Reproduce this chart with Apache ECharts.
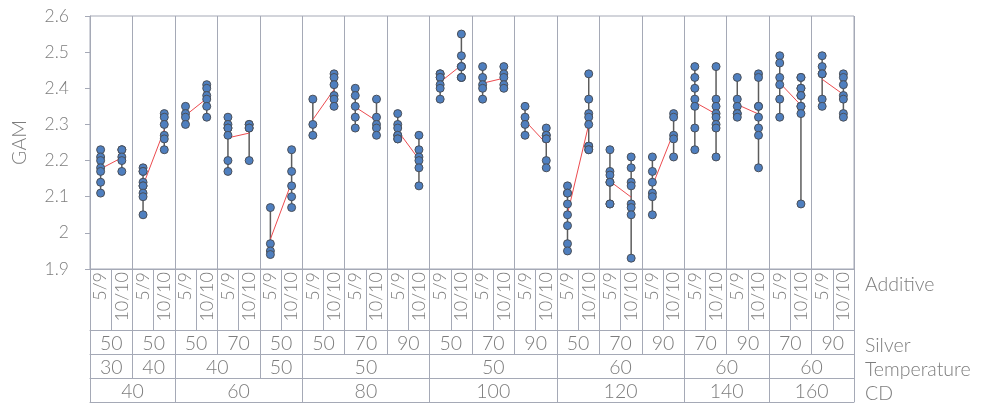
<!DOCTYPE html>
<html><head><meta charset="utf-8">
<script src="https://cdn.jsdelivr.net/npm/echarts@6/dist/echarts.min.js"></script>
<style>html,body{margin:0;padding:0;background:#fff}#c{width:991px;height:404px}</style>
</head><body><div id="c"></div>
<script>
const additiveLabels = ['5/9','10/10','5/9','10/10','5/9','10/10','5/9','10/10','5/9','10/10','5/9','10/10',
  '5/9','10/10','5/9','10/10','5/9','10/10','5/9','10/10','5/9','10/10','5/9','10/10',
  '5/9','10/10','5/9','10/10','5/9','10/10','5/9','10/10','5/9','10/10','5/9','10/10'];
const silverLabels = ['50','50','50','70','50','50','70','90','50','70','90','50','70','90','70','90','70','90'];
const temperatureLabels = ['30','40','40','50','50','50','60','60','60'];
const temperatureSpans = [1,1,2,1,3,3,3,2,2];
const cdLabels = ['40','60','80','100','120','140','160'];
const cdSpans = [2,3,3,3,3,2,2];
const gamValues = [
  [2.23,2.21,2.20,2.18,2.17,2.14,2.11],
  [2.23,2.23,2.21,2.20,2.17],
  [2.18,2.17,2.17,2.14,2.13,2.13,2.11,2.10,2.05],
  [2.33,2.32,2.30,2.27,2.26,2.23],
  [2.35,2.33,2.32,2.30],
  [2.41,2.40,2.38,2.37,2.35,2.32],
  [2.32,2.30,2.29,2.29,2.27,2.20,2.17],
  [2.30,2.30,2.29,2.29,2.20],
  [2.07,1.97,1.95,1.94],
  [2.23,2.17,2.13,2.10,2.07],
  [2.37,2.30,2.27],
  [2.44,2.43,2.41,2.38,2.37,2.35],
  [2.40,2.38,2.35,2.32,2.29],
  [2.37,2.32,2.30,2.29,2.27],
  [2.33,2.30,2.29,2.27,2.27,2.26,2.26],
  [2.27,2.23,2.21,2.20,2.18,2.13],
  [2.44,2.44,2.43,2.43,2.41,2.40,2.37],
  [2.55,2.49,2.46,2.46,2.46,2.43,2.43,2.43],
  [2.46,2.43,2.41,2.40,2.37],
  [2.46,2.44,2.43,2.41,2.40],
  [2.35,2.32,2.30,2.27],
  [2.29,2.27,2.27,2.26,2.26,2.20,2.18],
  [2.13,2.11,2.11,2.08,2.05,2.02,1.97,1.95],
  [2.44,2.37,2.33,2.32,2.30,2.24,2.24,2.23,2.23],
  [2.23,2.17,2.16,2.14,2.14,2.08,2.08],
  [2.21,2.18,2.14,2.13,2.08,2.07,2.05,1.93],
  [2.21,2.17,2.14,2.11,2.10,2.05],
  [2.33,2.32,2.27,2.26,2.21],
  [2.46,2.43,2.40,2.37,2.35,2.29,2.23],
  [2.46,2.37,2.35,2.33,2.32,2.30,2.29,2.21],
  [2.43,2.37,2.35,2.33,2.33,2.32],
  [2.44,2.43,2.35,2.35,2.32,2.29,2.27,2.18],
  [2.49,2.47,2.43,2.41,2.37,2.32],
  [2.43,2.43,2.40,2.40,2.38,2.38,2.35,2.35,2.33,2.08],
  [2.49,2.46,2.44,2.44,2.37,2.35],
  [2.44,2.43,2.41,2.38,2.37,2.33,2.32]
];

const LINE = '#a5a9b6';
const TEXT = '#7d7d7d';
const FONT = 'Lato';

function spanAxis(labels, spans) {
  const data = new Array(73).fill('');
  const bounds = new Set([0]);
  let g = 0;
  labels.forEach((lab, i) => {
    const start = g * 4, len = spans[i] * 4;
    data[start + len / 2] = lab;
    g += spans[i];
    bounds.add(g * 4);
  });
  return { data, bounds };
}
const tempAxis = spanAxis(temperatureLabels, temperatureSpans);
const cdAxis = spanAxis(cdLabels, cdSpans);

const scatterData = [];
const rangeData = [];
gamValues.forEach((vals, i) => {
  vals.forEach(v => scatterData.push([i, v]));
  rangeData.push([i, Math.min(...vals), Math.max(...vals)]);
});
const mean = a => a.reduce((s, v) => s + v, 0) / a.length;
const meanData = [];
for (let g = 0; g < gamValues.length / 2; g++) {
  meanData.push([2 * g, mean(gamValues[2 * g]), 2 * g + 1, mean(gamValues[2 * g + 1])]);
}

const nameStyle = { color: TEXT, fontFamily: FONT, fontWeight: 300, fontSize: 19.5, verticalAlign: 'top', padding: [6, 0, 0, 0] };

const chart = echarts.init(document.getElementById('c'), null, { renderer: 'canvas' });
chart.setOption({
  animation: false,
  backgroundColor: '#fff',
  textStyle: { fontFamily: FONT },
  grid: { left: 90, right: 137, top: 16, bottom: 134, show: true, borderColor: LINE, borderWidth: 1, backgroundColor: 'transparent' },
  xAxis: [
    {
      type: 'category', data: additiveLabels, boundaryGap: true, position: 'bottom',
      name: 'Additive', nameLocation: 'end', nameGap: 11, nameTextStyle: nameStyle,
      axisLine: { show: true, lineStyle: { color: LINE } },
      axisTick: { show: true, interval: 0, length: 61, lineStyle: { color: LINE } },
      axisLabel: { interval: 0, rotate: 90, margin: 3, color: TEXT, fontFamily: FONT, fontWeight: 300, fontSize: 18 },
      splitLine: { show: false }
    },
    {
      type: 'category', data: silverLabels, boundaryGap: true, position: 'bottom', offset: 61,
      name: 'Silver', nameLocation: 'end', nameGap: 11, nameTextStyle: nameStyle,
      axisLine: { show: true, lineStyle: { color: LINE } },
      axisTick: { show: true, interval: 0, length: 24, lineStyle: { color: LINE } },
      axisLabel: { interval: 0, margin: 4, color: TEXT, fontFamily: FONT, fontWeight: 300, fontSize: 19.5 },
      splitLine: { show: true, interval: 0, lineStyle: { color: LINE, width: 1 } }
    },
    {
      type: 'category', data: tempAxis.data, boundaryGap: false, position: 'bottom', offset: 85,
      name: 'Temperature', nameLocation: 'end', nameGap: 11, nameTextStyle: nameStyle,
      axisLine: { show: true, lineStyle: { color: LINE } },
      axisTick: { show: true, interval: (i) => tempAxis.bounds.has(i), length: 24, lineStyle: { color: LINE } },
      axisLabel: { interval: 0, margin: 4, color: TEXT, fontFamily: FONT, fontWeight: 300, fontSize: 19.5 },
      splitLine: { show: false }
    },
    {
      type: 'category', data: cdAxis.data, boundaryGap: false, position: 'bottom', offset: 109,
      name: 'CD', nameLocation: 'end', nameGap: 11, nameTextStyle: nameStyle,
      axisLine: { show: true, lineStyle: { color: LINE } },
      axisTick: { show: true, interval: (i) => cdAxis.bounds.has(i), length: 24, lineStyle: { color: LINE } },
      axisLabel: { interval: 0, margin: 4, color: TEXT, fontFamily: FONT, fontWeight: 300, fontSize: 19.5 },
      splitLine: { show: false }
    },
    {
      type: 'category', data: additiveLabels, boundaryGap: true, position: 'bottom', offset: 133,
      axisLine: { show: true, lineStyle: { color: LINE } },
      axisTick: { show: false }, axisLabel: { show: false }, splitLine: { show: false }
    }
  ],
  yAxis: {
    type: 'value', min: 1.9, max: 2.6, interval: 0.1,
    name: 'GAM', nameLocation: 'middle', nameGap: 60,
    nameTextStyle: { color: TEXT, fontFamily: FONT, fontWeight: 300, fontSize: 19.5 },
    axisLine: { show: true, lineStyle: { color: LINE } },
    axisTick: { show: true, length: 5, lineStyle: { color: LINE } },
    axisLabel: { margin: 21, color: TEXT, fontFamily: FONT, fontWeight: 300, fontSize: 17.5 },
    splitLine: { show: false }
  },
  series: [
    {
      type: 'custom', xAxisIndex: 0, data: rangeData, z: 2,
      renderItem: (params, api) => {
        const p1 = api.coord([api.value(0), api.value(1)]);
        const p2 = api.coord([api.value(0), api.value(2)]);
        return { type: 'line', shape: { x1: p1[0], y1: p1[1], x2: p2[0], y2: p2[1] }, style: { stroke: '#5c5c5c', lineWidth: 1.5 } };
      }
    },
    {
      type: 'custom', xAxisIndex: 0, data: meanData, z: 3,
      renderItem: (params, api) => {
        const p1 = api.coord([api.value(0), api.value(1)]);
        const p2 = api.coord([api.value(2), api.value(3)]);
        return { type: 'line', shape: { x1: p1[0], y1: p1[1], x2: p2[0], y2: p2[1] }, style: { stroke: '#ec4b4f', lineWidth: 1 } };
      }
    },
    {
      type: 'scatter', xAxisIndex: 0, data: scatterData, z: 4,
      symbol: 'circle', symbolSize: 8,
      itemStyle: { color: '#4f7fbf', borderColor: '#4a4f58', borderWidth: 1, opacity: 1 }
    }
  ]
});
</script></body></html>
